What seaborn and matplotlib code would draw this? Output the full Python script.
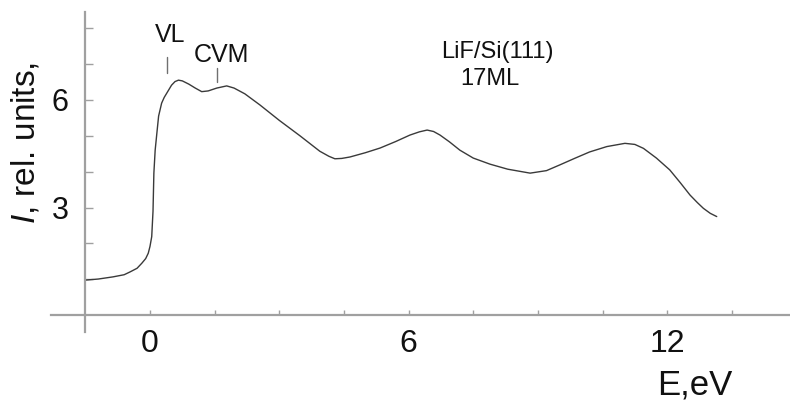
import matplotlib
matplotlib.use("Agg")
import matplotlib.pyplot as plt
import seaborn as sns
import pandas as pd

# Spectrum: energy (eV) vs intensity (rel. units)
energy = [-1.5, -1.2, -0.86, -0.6, -0.46, -0.3, -0.19, -0.1, -0.04, 0.0, 0.04,
          0.07, 0.09, 0.12, 0.16, 0.2, 0.27, 0.33, 0.39, 0.5, 0.58, 0.66, 0.75,
          0.9, 1.05, 1.2, 1.35, 1.55, 1.78, 1.95, 2.2, 2.55, 3.0, 3.48, 3.94,
          4.15, 4.29, 4.45, 4.64, 5.0, 5.34, 5.7, 6.03, 6.25, 6.43, 6.58, 6.73,
          6.95, 7.19, 7.5, 7.89, 8.3, 8.82, 9.2, 9.51, 9.85, 10.2, 10.6, 11.02,
          11.25, 11.45, 11.75, 12.06, 12.3, 12.53, 12.7, 12.84, 13.0, 13.15]
intensity = [0.98, 1.01, 1.07, 1.13, 1.21, 1.31, 1.45, 1.58, 1.73, 1.92, 2.19,
             2.9, 3.96, 4.6, 5.08, 5.55, 5.91, 6.07, 6.19, 6.41, 6.51, 6.55, 6.53,
             6.44, 6.33, 6.23, 6.25, 6.33, 6.39, 6.33, 6.17, 5.86, 5.43, 5.0, 4.57,
             4.43, 4.36, 4.37, 4.41, 4.53, 4.66, 4.84, 5.02, 5.11, 5.16, 5.12, 5.02,
             4.83, 4.6, 4.38, 4.21, 4.07, 3.96, 4.03, 4.19, 4.37, 4.55, 4.7, 4.79,
             4.76, 4.65, 4.38, 4.05, 3.7, 3.35, 3.14, 2.98, 2.84, 2.75]

x_ticks = [0, 1.5, 3, 4.5, 6, 7.5, 9, 10.5, 12, 13.5]
x_ticklabels = ["0", "", "", "", "6", "", "", "", "12", ""]
y_ticks = [1, 2, 3, 4, 5, 6, 7, 8]
y_ticklabels = ["", "", "3", "", "", "6", "", ""]

sample_label = "LiF/Si(111)"
thickness_label = "17ML"
peak_names = ["VL", "CVM"]
peak_energy = [0.39, 1.55]
peak_mark_top = [7.2, 6.89]
peak_mark_bottom = [6.75, 6.5]

df = pd.DataFrame({"E": energy, "I": intensity})

sns.set_style("ticks")
plt.rcParams["font.family"] = ["Liberation Sans", "DejaVu Sans"]
plt.rcParams["mathtext.fontset"] = "custom"
plt.rcParams["mathtext.it"] = "Liberation Sans:italic"
plt.rcParams["mathtext.rm"] = "Liberation Sans"

fig = plt.figure(figsize=(7.90, 4.04), dpi=100)
ax = fig.add_axes([42.25 / 790, 0.0, 747.75 / 790, 1.0])

sns.lineplot(data=df, x="E", y="I", ax=ax, color="#3a3a3a", linewidth=1.0,
             sort=False, estimator=None)

ax.set_xlim(-2.5, 14.85)
ax.set_ylim(-2.471, 8.783)

axis_col = "#a0a0a0"
for s in ["top", "right"]:
    ax.spines[s].set_visible(False)
ax.spines["left"].set_position(("data", -1.5))
ax.spines["bottom"].set_position(("data", 0))
ax.spines["left"].set_bounds(-0.46, 8.44)
ax.spines["bottom"].set_bounds(-2.3, 15)
for s in ["left", "bottom"]:
    ax.spines[s].set_color(axis_col)
    ax.spines[s].set_linewidth(1.6)

ax.set_xticks(x_ticks)
ax.set_xticklabels(x_ticklabels)
ax.set_yticks(y_ticks)
ax.set_yticklabels(y_ticklabels)
ax.tick_params(axis="x", direction="in", length=3.5, width=1.0, color=axis_col,
               labelsize=23, pad=10, labelcolor="#111111")
ax.tick_params(axis="y", direction="in", length=6, width=1.0, color=axis_col,
               labelsize=22, pad=12, labelcolor="#111111")
ax.set_xlabel("")
ax.set_ylabel("")

ax.text(12.65, -2.22, "E,eV", fontsize=25, ha="center", va="baseline",
        color="#111111")
ax.text(-2.9, 4.8, r"$I$, rel. units,", fontsize=24, rotation=90,
        ha="center", va="center", color="#111111")

for name, e, t, b in zip(peak_names, peak_energy, peak_mark_top, peak_mark_bottom):
    ax.plot([e, e], [b, t], color="#707070", linewidth=1.0)
ax.text(peak_energy[0] + 0.07, 7.62, peak_names[0], fontsize=18, ha="center",
        va="baseline", color="#111111")
ax.text(peak_energy[1] + 0.1, 7.05, peak_names[1], fontsize=18, ha="center",
        va="baseline", color="#111111")

ax.text(8.07, 7.17, sample_label, fontsize=17, ha="center", va="baseline",
        color="#111111")
ax.text(7.89, 6.42, thickness_label, fontsize=17, ha="center", va="baseline",
        color="#111111")

fig.savefig("out.png", dpi=100)
